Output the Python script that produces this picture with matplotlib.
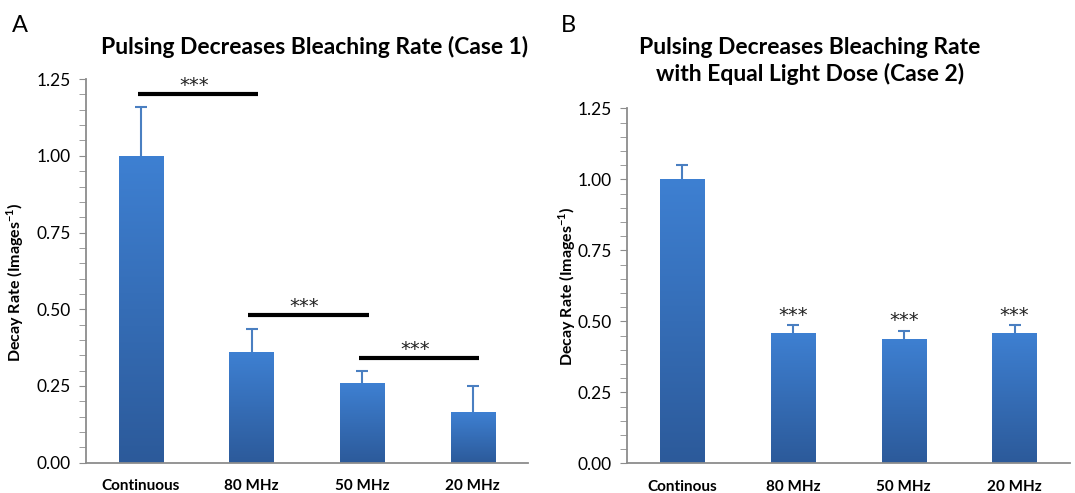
import numpy as np
import matplotlib.pyplot as plt
from matplotlib.ticker import MultipleLocator

plt.rcParams['font.family'] = ['Lato', 'DejaVu Sans']
plt.rcParams['mathtext.fontset'] = 'custom'
plt.rcParams['mathtext.rm'] = 'Lato'
plt.rcParams['mathtext.bf'] = 'Lato:bold'

# case 1
labels_a = ['Continuous', '80 MHz', '50 MHz', '20 MHz']
rate_a = [1.0, 0.36, 0.26, 0.165]
err_a = [0.16, 0.075, 0.04, 0.085]
sig_pairs_a = [(0, 1), (1, 2), (2, 3)]
sig_y_a = [1.20, 0.48, 0.34]

# case 2
labels_b = ['Continous', '80 MHz', '50 MHz', '20 MHz']
rate_b = [1.0, 0.46, 0.437, 0.46]
err_b = [0.052, 0.026, 0.029, 0.026]
sig_b = [1, 2, 3]

top_col = np.array([62, 128, 210]) / 255
bot_col = np.array([44, 90, 154]) / 255
err_col = '#4a7fc1'
spine_col = '#8c8c8c'


def grad_bars(ax, x, h, w=0.4):
    bars = ax.bar(x, h, width=w, color='none', edgecolor='none', zorder=2)
    grad = np.linspace(1, 0, 256)[:, None, None] * top_col + np.linspace(0, 1, 256)[:, None, None] * bot_col
    for b in bars:
        x0, y0 = b.get_x(), b.get_y()
        im = ax.imshow(grad, extent=[x0, x0 + b.get_width(), y0, y0 + b.get_height()],
                       aspect='auto', zorder=2, interpolation='bicubic')
        im.set_clip_path(b)
    return bars


def up_err(ax, x, h, e):
    eb = ax.errorbar(x, h, yerr=[np.zeros(len(e)), e], fmt='none', ecolor=err_col,
                     elinewidth=1.5, capsize=4, capthick=1.5, zorder=3)
    eb[1][0].set_visible(False)  # lower cap sits on the bar top


def stars(ax, x, y):
    ax.text(x, y, '***', ha='center', va='baseline', fontsize=14,
            family='DejaVu Sans', color='#222222')


def style(ax, labels):
    ax.set_xlim(-0.5, 3.5)
    ax.set_ylim(0, 1.25)
    ax.set_xticks(range(4))
    ax.set_xticklabels(labels, fontweight='bold', fontsize=11)
    ax.tick_params(axis='x', length=0, pad=12)
    ax.yaxis.set_major_locator(MultipleLocator(0.25))
    ax.yaxis.set_minor_locator(MultipleLocator(0.05))
    ax.yaxis.set_major_formatter(plt.FormatStrFormatter('%.2f'))
    ax.tick_params(axis='y', which='both', length=5, color=spine_col, labelsize=12.5, pad=6)
    for s in ['top', 'right']:
        ax.spines[s].set_visible(False)
    for s in ['left', 'bottom']:
        ax.spines[s].set_color(spine_col)
        ax.spines[s].set_linewidth(1.3)
    ax.set_ylabel(r'Decay Rate (Images$^{\mathbf{-1}}$)', fontweight='bold', fontsize=11.5)


fig = plt.figure(figsize=(10.75, 4.93), dpi=100)
ax1 = fig.add_axes([0.0797, 0.0615, 0.4115, 0.778])
ax2 = fig.add_axes([0.583, 0.0602, 0.4124, 0.72])

x = np.arange(4)

grad_bars(ax1, x, rate_a)
up_err(ax1, x, rate_a, err_a)
for (i, j), yy in zip(sig_pairs_a, sig_y_a):
    ax1.plot([i - 0.03, j + 0.06], [yy, yy], color='black', lw=3, solid_capstyle='butt', zorder=4)
    stars(ax1, (i + j) / 2 - 0.02, yy + 0.012)
style(ax1, labels_a)
ax1.yaxis.set_label_coords(-0.135, 0.47)

grad_bars(ax2, x, rate_b)
up_err(ax2, x, rate_b, err_b)
for i in sig_b:
    stars(ax2, i, rate_b[i] + err_b[i] + 0.016)
style(ax2, labels_b)
ax2.yaxis.set_label_coords(-0.11, 0.5)

fig.text(315 / 1075, 1 - 47 / 493, 'Pulsing Decreases Bleaching Rate (Case 1)',
         ha='center', va='center', fontsize=16.5, fontweight='bold')
fig.text(810 / 1075, 1 - 61 / 493, 'Pulsing Decreases Bleaching Rate\nwith Equal Light Dose (Case 2)',
         ha='center', va='center', fontsize=16.5, fontweight='bold', linespacing=1.25)
fig.text(20 / 1075, 1 - 25 / 493, 'A', ha='center', va='center', fontsize=17)
fig.text(568 / 1075, 1 - 25 / 493, 'B', ha='center', va='center', fontsize=17)

fig.savefig('out.png', dpi=100)
